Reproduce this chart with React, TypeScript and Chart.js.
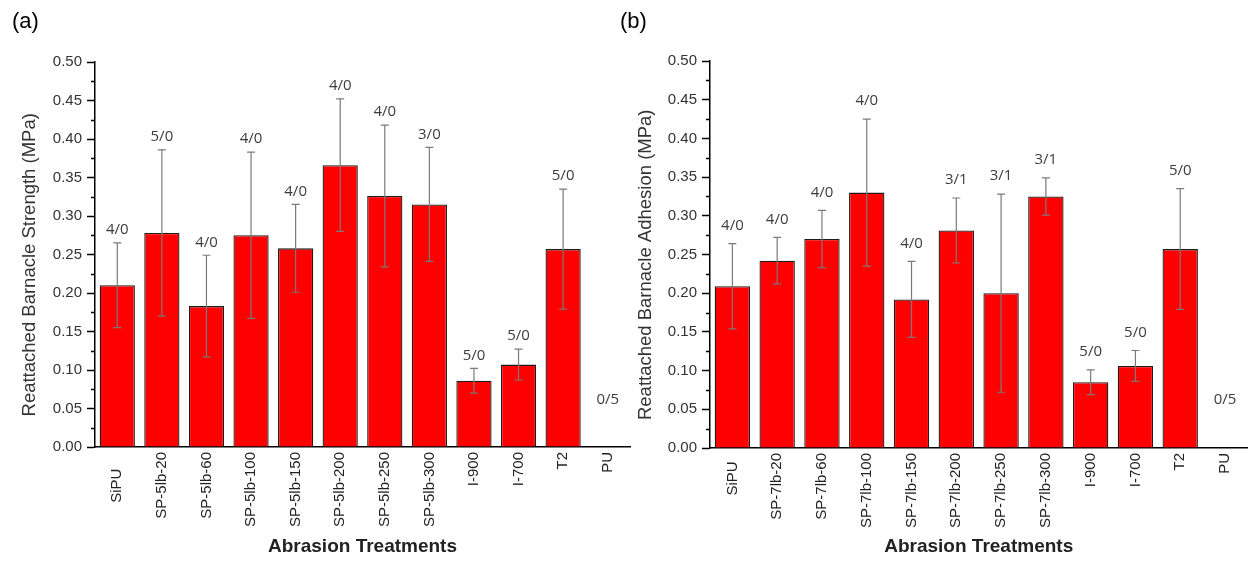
import React, { useEffect, useRef } from 'react';
import { Chart, registerables } from 'chart.js';

Chart.register(...registerables);

// ---------- Data: panel (a) ----------
const categoriesA = ['SiPU    ', 'SP-5lb-20', 'SP-5lb-60', 'SP-5lb-100', 'SP-5lb-150', 'SP-5lb-200', 'SP-5lb-250', 'SP-5lb-300', 'I-900', 'I-700', 'T2', 'PU'];
const meansA = [0.210, 0.278, 0.183, 0.275, 0.258, 0.366, 0.326, 0.315, 0.086, 0.107, 0.257, 0];
const errorsA = [0.055, 0.108, 0.066, 0.108, 0.057, 0.086, 0.092, 0.074, 0.016, 0.020, 0.078, 0];
const countsA = ['4/0', '5/0', '4/0', '4/0', '4/0', '4/0', '4/0', '3/0', '5/0', '5/0', '5/0', '0/5'];

// ---------- Data: panel (b) ----------
const categoriesB = ['SiPU  ', 'SP-7lb-20', 'SP-7lb-60', 'SP-7lb-100', 'SP-7lb-150', 'SP-7lb-200', 'SP-7lb-250', 'SP-7lb-300', 'I-900', 'I-700', 'T2', 'PU'];
const meansB = [0.209, 0.242, 0.270, 0.330, 0.192, 0.281, 0.200, 0.325, 0.085, 0.106, 0.257, 0];
const errorsB = [0.055, 0.030, 0.037, 0.095, 0.049, 0.042, 0.128, 0.024, 0.016, 0.020, 0.078, 0];
const countsB = ['4/0', '4/0', '4/0', '4/0', '4/0', '3/1', '3/1', '3/1', '5/0', '5/0', '5/0', '0/5'];

const Y_MIN = 0;
const Y_MAX = 0.5;
const Y_STEP = 0.05;
const ZERO_LABEL_AT = 0.062;

const FONT = 'Arial, "Liberation Sans", sans-serif';

const extrasPlugin = {
  id: 'barExtras',
  afterDatasetsDraw(chart: any, _args: any, opts: any) {
    const { ctx } = chart;
    const meta = chart.getDatasetMeta(0);
    const y = chart.scales.y;
    ctx.save();
    meta.data.forEach((bar: any, i: number) => {
      const m = opts.means[i];
      const e = opts.errors[i];
      const cx = bar.x;
      if (e > 0) {
        const yt = y.getPixelForValue(m + e);
        const yb = y.getPixelForValue(m - e);
        ctx.strokeStyle = '#7a7a7a';
        ctx.lineWidth = 1.2;
        ctx.beginPath();
        ctx.moveTo(cx, yt);
        ctx.lineTo(cx, yb);
        ctx.moveTo(cx - 4, yt);
        ctx.lineTo(cx + 4, yt);
        ctx.moveTo(cx - 4, yb);
        ctx.lineTo(cx + 4, yb);
        ctx.stroke();
      }
      ctx.fillStyle = '#3c3c3c';
      ctx.font = '15px "Open Sans", sans-serif';
      ctx.textAlign = 'center';
      ctx.textBaseline = 'middle';
      const ly = m + e > 0 ? y.getPixelForValue(m + e) - opts.gap : y.getPixelForValue(ZERO_LABEL_AT);
      ctx.fillText(opts.counts[i], cx, ly);
    });
    // minor ticks on the y axis
    const ax = chart.chartArea.left;
    ctx.strokeStyle = '#000';
    ctx.lineWidth = 1.5;
    ctx.beginPath();
    for (let v = Y_MIN + Y_STEP / 2; v < Y_MAX; v += Y_STEP) {
      const py = Math.round(y.getPixelForValue(v)) + 0.5;
      ctx.moveTo(ax, py);
      ctx.lineTo(ax - 4, py);
    }
    ctx.stroke();
    ctx.restore();
  },
};

type Spec = {
  panel: string;
  categories: string[];
  means: number[];
  errors: number[];
  counts: string[];
  yTitle: string;
  gap: number;
  padRight: number;
  top: number;
  xHeight: number;
  yWidth: number;
  yTitlePad: number;
};

function makeConfig(spec: Spec): any {
  return {
    type: 'bar',
    data: {
      labels: spec.categories,
      datasets: [
        {
          data: spec.means,
          backgroundColor: '#ff0000',
          borderColor: '#1c1c1c',
          borderWidth: 1.3,
          barPercentage: 0.79,
          categoryPercentage: 1,
        },
      ],
    },
    options: {
      responsive: false,
      animation: false,
      layout: { padding: { left: 12, right: spec.padRight, top: 0, bottom: 3 } },
      plugins: {
        legend: { display: false },
        tooltip: { enabled: false },
        title: {
          display: true,
          text: spec.panel,
          align: 'start',
          color: '#000',
          font: { family: FONT, size: 22, weight: 'normal' },
          padding: { top: 9, bottom: spec.top - 9 - 26.4 },
        },
        barExtras: { means: spec.means, errors: spec.errors, counts: spec.counts, gap: spec.gap },
      },
      scales: {
        x: {
          type: 'category',
          offset: true,
          grid: { display: false, drawTicks: false },
          border: { display: true, color: '#000', width: 1.5 },
          ticks: {
            autoSkip: false,
            minRotation: 90,
            maxRotation: 90,
            padding: 5,
            color: '#222',
            font: { family: FONT, size: 15 },
          },
          title: {
            display: true,
            text: 'Abrasion Treatments',
            color: '#222',
            font: { family: FONT, size: 19, weight: 'bold' },
            padding: { top: 0, bottom: 0 },
          },
          afterFit: (s: any) => {
            s.height = spec.xHeight;
          },
        },
        y: {
          min: Y_MIN,
          max: Y_MAX,
          ticks: {
            stepSize: Y_STEP,
            callback: (v: any) => Number(v).toFixed(2),
            padding: 5,
            color: '#333',
            font: { family: FONT, size: 15 },
          },
          grid: { drawOnChartArea: false, drawTicks: true, tickLength: 8, tickColor: '#000', tickWidth: 1.5 },
          border: { display: true, color: '#000', width: 1.5 },
          title: {
            display: true,
            text: spec.yTitle,
            color: '#333',
            font: { family: FONT, size: 18.5, weight: 'normal' },
            padding: { top: spec.yTitlePad, bottom: 0 },
          },
          afterFit: (s: any) => {
            s.width = spec.yWidth;
          },
        },
      },
    },
    plugins: [extrasPlugin],
  };
}

const specA: Spec = {
  panel: '(a)',
  categories: categoriesA,
  means: meansA,
  errors: errorsA,
  counts: countsA,
  yTitle: 'Reattached Barnacle Strength (MPa)    ',
  gap: 13,
  padRight: 10,
  top: 62,
  xHeight: 561 - 3 - 447,
  yWidth: 95 - 12,
  yTitlePad: 7,
};

const specB: Spec = {
  panel: '(b)',
  categories: categoriesB,
  means: meansB,
  errors: errorsB,
  counts: countsB,
  yTitle: 'Reattached Barnacle Adhesion (MPa)    ',
  gap: 18,
  padRight: 0,
  top: 61,
  xHeight: 561 - 3 - 448,
  yWidth: 710 - 608 - 12,
  yTitlePad: 15,
};

function Panel({ spec, left, width }: { spec: Spec; left: number; width: number }) {
  const ref = useRef<HTMLCanvasElement>(null);
  useEffect(() => {
    const chart = new Chart(ref.current as HTMLCanvasElement, makeConfig(spec));
    return () => chart.destroy();
  }, []);
  return (
    <canvas
      ref={ref}
      width={width}
      height={561}
      style={{ position: 'absolute', left, top: 0, width, height: 561 }}
    />
  );
}

export default function App() {
  return (
    <div style={{ position: 'absolute', left: 0, top: 0, width: 1248, height: 561, background: '#fff', overflow: 'hidden' }}>
      <Panel spec={specA} left={0} width={640} />
      <Panel spec={specB} left={608} width={640} />
    </div>
  );
}
